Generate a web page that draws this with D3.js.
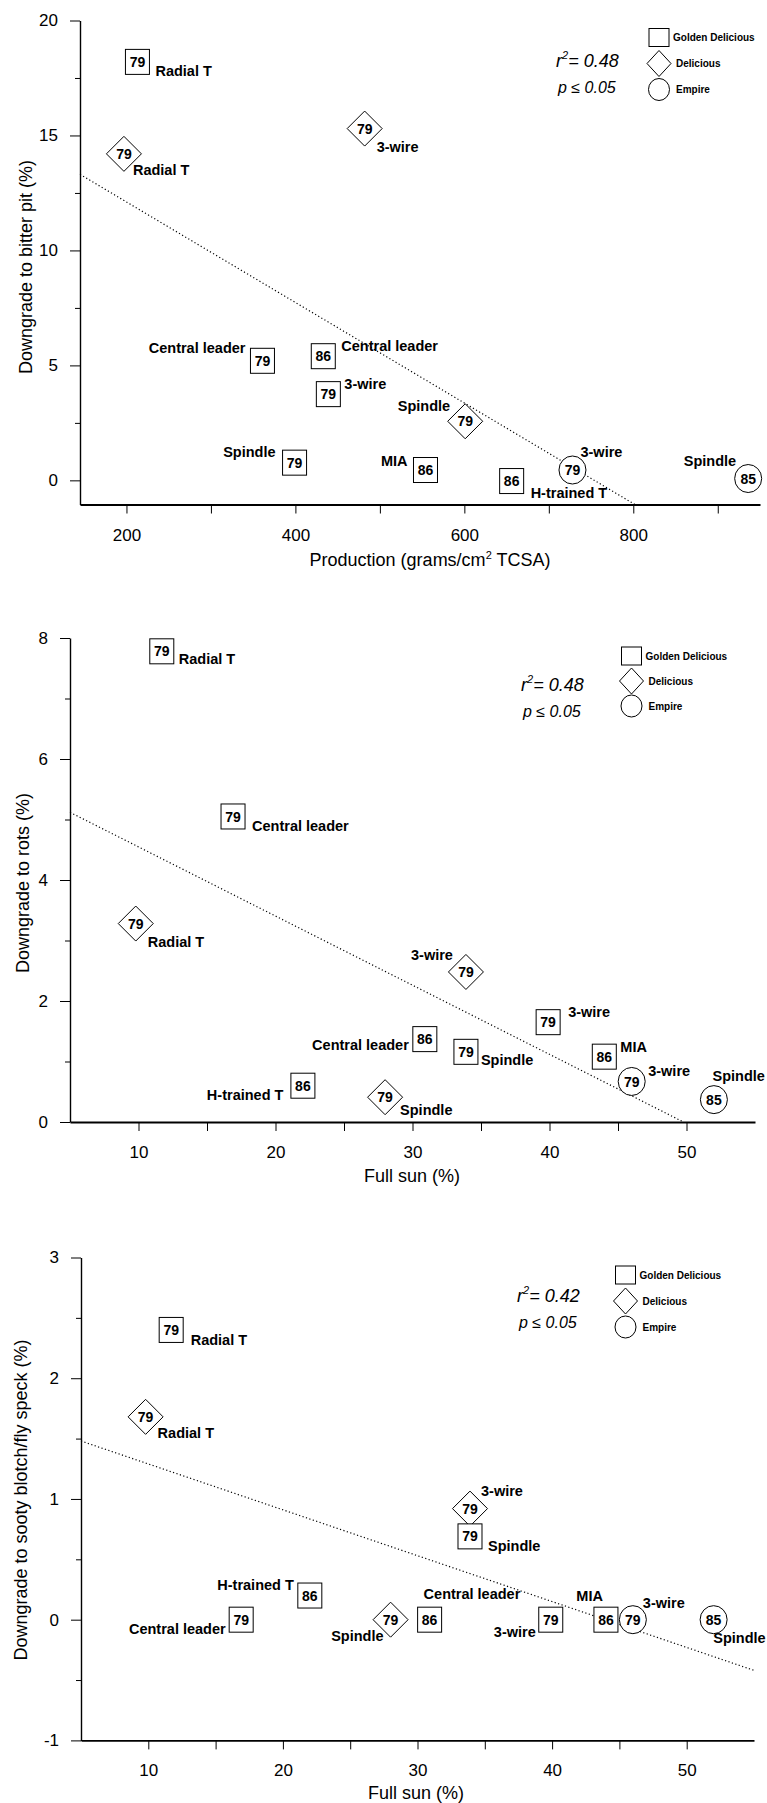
<!DOCTYPE html>
<html>
<head>
<meta charset="utf-8">
<script src="https://cdn.jsdelivr.net/npm/d3@7"></script>
<style>
  body { margin: 0; background: #fff; }
  svg { display: block; font-family: "Liberation Sans", Arial, Helvetica, sans-serif; }
</style>
</head>
<body>
<svg width="767" height="1803"></svg>
<script>
// the twelve plantings, same order in all three panels
const cultivar = ["GD", "D", "D", "GD", "GD", "GD", "D", "GD", "GD", "GD", "E", "E"];
const rootstock = ["79", "79", "79", "79", "86", "79", "79", "79", "86", "86", "79", "85"];
const trainingSystem = ["Radial T", "Radial T", "3-wire", "Central leader", "Central leader", "3-wire",
    "Spindle", "Spindle", "MIA", "H-trained T", "3-wire", "Spindle"];

const production = [213, 197, 482, 361, 433, 439, 601, 399, 554, 656, 728, 936];
const fullSun = [11.7, 9.8, 33.9, 16.9, 30.9, 39.9, 28.0, 33.9, 44.0, 22.0, 46.0, 52.0];

const bitterPit = [18.2, 14.2, 15.3, 5.2, 5.4, 3.75, 2.57, 0.77, 0.45, -0.03, 0.45, 0.08];
const rots = [7.78, 3.28, 2.48, 5.05, 1.37, 1.65, 0.41, 1.16, 1.08, 0.60, 0.67, 0.37];
const sootyBlotch = [2.40, 1.68, 0.92, 0.0, 0.0, 0.0, 0.0, 0.69, 0.0, 0.2, 0.0, 0.0];

// regression lines: [intercept, slope]
const fitBitter = [16.48, -0.02186];
const fitRots = [5.69, -0.1143];
const fitSooty = [1.67, -0.038];
const r2Values = ["0.48", "0.48", "0.42"];

const legendNames = ["Golden Delicious", "Delicious", "Empire"];
const legendKeys = ["GD", "D", "E"];

const prodTicks = [200, 400, 600, 800];
const prodMinor = [200, 300, 400, 500, 600, 700, 800, 900];
const sunTicks = [10, 20, 30, 40, 50];
const sunMinor = [10, 15, 20, 25, 30, 35, 40, 45, 50];
const bitterTicks = [0, 5, 10, 15, 20];
const bitterMinor = [2.5, 7.5, 12.5, 17.5];
const rotsTicks = [0, 2, 4, 6, 8];
const rotsMinor = [1, 3, 5, 7];
const sootyTicks = [-1, 0, 1, 2, 3];
const sootyMinor = [-0.5, 0.5, 1.5, 2.5];

// label placement beside each marker: [dx, dy, anchor]
const place1 = [[18, 14, "start"], [9, 21, "start"], [12, 23, "start"], [-17, -8, "end"],
    [18, -5, "start"], [16, -5.5, "start"], [-15, -10, "end"], [-19, -5.5, "end"],
    [-18, -4.5, "end"], [19, 16.5, "start"], [8, -13, "start"], [-12, -13, "end"]];
const place2 = [[17, 13, "start"], [12, 23, "start"], [-13, -12, "end"], [19, 15, "start"],
    [-16, 10.5, "end"], [20, -5, "start"], [15, 18, "start"], [15, 13, "start"],
    [16, -5, "start"], [-19.5, 14, "end"], [16.5, -5, "start"], [51, -18.5, "end"]];
const place3 = [[19.5, 14.8, "start"], [12, 21, "start"], [11, -12.7, "start"], [-15.5, 14, "end"],
    [-6, -20.7, "start"], [-15, 17.8, "end"], [-7, 21, "end"], [18, 14.8, "start"],
    [-3, -18.6, "end"], [-16, -5.5, "end"], [10, -11.8, "start"], [52, 23, "end"]];

const svg = d3.select("svg");

const panels = [
    {
        xs: production, ys: bitterPit, place: place1, fit: fitBitter, r2: r2Values[0],
        xDomain: [145, 950], xRange: [80, 760], yDomain: [-1.05, 20], yRange: [504.5, 20.5],
        xMajor: prodTicks, xAll: prodMinor, yMajor: bitterTicks, yMinor: bitterMinor,
        yTitle: "Downgrade to bitter pit (%)", yTitlePos: [27, 267],
        xTitle: ["Production (grams/cm", "2", " TCSA)"], xTitlePos: [430, 566],
        legend: [659, 37.5, 26], stats: [556, 67]
    },
    {
        xs: fullSun, ys: rots, place: place2, fit: fitRots, r2: r2Values[1],
        xDomain: [5, 55], xRange: [70, 755], yDomain: [0, 8], yRange: [1122, 638],
        xMajor: sunTicks, xAll: sunMinor, yMajor: rotsTicks, yMinor: rotsMinor,
        yTitle: "Downgrade to rots (%)", yTitlePos: [24, 883],
        xTitle: ["Full sun (%)"], xTitlePos: [412, 1182],
        legend: [631.5, 656, 25], stats: [521, 691]
    },
    {
        xs: fullSun, ys: sootyBlotch, place: place3, fit: fitSooty, r2: r2Values[2],
        xDomain: [5, 55], xRange: [81, 754], yDomain: [-1, 3], yRange: [1740.4, 1257.5],
        xMajor: sunTicks, xAll: sunMinor, yMajor: sootyTicks, yMinor: sootyMinor,
        yTitle: "Downgrade to sooty blotch/fly speck (%)", yTitlePos: [22, 1500],
        xTitle: ["Full sun (%)"], xTitlePos: [416, 1799],
        legend: [625.5, 1275, 26], stats: [517, 1301.5]
    }
];

// draw a marker shape centred on (cx, cy)
function marker(g, kind, cx, cy) {
    if (kind === "GD") {
        g.append("rect")
            .attr("x", cx - 12).attr("y", cy - 12.5)
            .attr("width", 24).attr("height", 25);
    } else if (kind === "D") {
        const h = 17.5;
        g.append("path")
            .attr("d", `M${cx},${cy - h}L${cx + h},${cy}L${cx},${cy + h}L${cx - h},${cy}Z`);
    } else {
        g.append("ellipse")
            .attr("cx", cx).attr("cy", cy)
            .attr("rx", 13.5).attr("ry", 14);
    }
}

function drawPanel(p) {
    const x = d3.scaleLinear().domain(p.xDomain).range(p.xRange);
    const y = d3.scaleLinear().domain(p.yDomain).range(p.yRange);
    const g = svg.append("g");

    // x axis
    const xAxis = g.append("g")
        .attr("transform", `translate(0,${p.yRange[0]})`)
        .call(d3.axisBottom(x)
            .tickValues(p.xAll)
            .tickSize(9)
            .tickSizeOuter(0)
            .tickPadding(15)
            .tickFormat(d => p.xMajor.includes(d) ? String(d) : ""));
    xAxis.select(".domain").attr("stroke-width", 1.8);

    // y axis, labelled ticks then minor ticks
    const yAxis = g.append("g")
        .attr("transform", `translate(${p.xRange[0]},0)`)
        .call(d3.axisLeft(y)
            .tickValues(p.yMajor)
            .tickSize(10)
            .tickSizeOuter(0)
            .tickPadding(12)
            .tickFormat(d => String(d)));
    yAxis.select(".domain").attr("stroke-width", 1.4);
    g.append("g")
        .attr("transform", `translate(${p.xRange[0]},0)`)
        .call(d3.axisLeft(y).tickValues(p.yMinor).tickSize(5).tickFormat(""))
        .select(".domain").remove();

    g.selectAll(".tick text")
        .attr("font-size", 17)
        .attr("font-family", "Liberation Sans, Arial, sans-serif")
        .attr("fill", "#000");
    g.selectAll(".tick line").attr("stroke", "#000");

    // axis titles
    const xt = g.append("text")
        .attr("x", p.xTitlePos[0]).attr("y", p.xTitlePos[1])
        .attr("text-anchor", "middle")
        .attr("font-size", 18);
    xt.append("tspan").text(p.xTitle[0]);
    if (p.xTitle.length > 1) {
        xt.append("tspan").attr("dy", -7).attr("font-size", 11).text(p.xTitle[1]);
        xt.append("tspan").attr("dy", 7).text(p.xTitle[2]);
    }

    g.append("text")
        .attr("transform", `translate(${p.yTitlePos[0] + 5},${p.yTitlePos[1]}) rotate(-90)`)
        .attr("text-anchor", "middle")
        .attr("font-size", 18)
        .text(p.yTitle);

    // regression line, clipped to the plot frame
    const [b, m] = p.fit;
    const x0 = p.xDomain[0];
    let x1 = p.xDomain[1];
    if (b + m * x1 < p.yDomain[0]) { x1 = (p.yDomain[0] - b) / m; }
    g.append("line")
        .attr("x1", x(x0)).attr("y1", y(b + m * x0))
        .attr("x2", x(x1)).attr("y2", y(b + m * x1))
        .attr("stroke", "#000")
        .attr("stroke-width", 1.2)
        .attr("stroke-dasharray", "1.2,2.4");

    // markers with rootstock number and training system label
    const pts = g.append("g")
        .attr("fill", "#fff")
        .attr("stroke", "#000")
        .attr("stroke-width", 1);
    p.xs.forEach((v, i) => {
        marker(pts, cultivar[i], x(v), y(p.ys[i]));
    });

    g.append("g")
        .selectAll("text")
        .data(p.xs)
        .join("text")
        .attr("x", (d, i) => x(d))
        .attr("y", (d, i) => y(p.ys[i]))
        .attr("dy", "0.36em")
        .attr("text-anchor", "middle")
        .attr("font-size", 14)
        .attr("font-weight", "bold")
        .text((d, i) => rootstock[i]);

    g.append("g")
        .selectAll("text")
        .data(p.xs)
        .join("text")
        .attr("x", (d, i) => x(d) + p.place[i][0])
        .attr("y", (d, i) => y(p.ys[i]) + p.place[i][1])
        .attr("text-anchor", (d, i) => p.place[i][2])
        .attr("font-size", 14.5)
        .attr("font-weight", "bold")
        .text((d, i) => trainingSystem[i]);

    // legend
    const [lx, ly, step] = p.legend;
    const leg = g.append("g");
    const legShapes = leg.append("g")
        .attr("fill", "#fff")
        .attr("stroke", "#000")
        .attr("stroke-width", 1);
    legendKeys.forEach((k, i) => {
        const cy = ly + i * step;
        if (k === "GD") {
            legShapes.append("rect").attr("x", lx - 10).attr("y", cy - 9).attr("width", 20).attr("height", 18);
        } else if (k === "D") {
            legShapes.append("path").attr("d", `M${lx},${cy - 13}L${lx + 12},${cy}L${lx},${cy + 13}L${lx - 12},${cy}Z`);
        } else {
            legShapes.append("ellipse").attr("cx", lx).attr("cy", cy).attr("rx", 10.5).attr("ry", 11);
        }
        leg.append("text")
            .attr("x", lx + (i === 0 ? 14 : 17))
            .attr("y", cy + 3.5)
            .attr("font-size", 10)
            .attr("font-weight", "bold")
            .text(legendNames[i]);
    });

    // fit statistics
    const r2 = g.append("text")
        .attr("x", p.stats[0]).attr("y", p.stats[1])
        .attr("font-size", 18)
        .attr("font-style", "italic");
    r2.append("tspan").text("r");
    r2.append("tspan").attr("dy", -8).attr("font-size", 11).text("2");
    r2.append("tspan").attr("dy", 8).text("= " + p.r2);

    g.append("text")
        .attr("x", p.stats[0] + 2).attr("y", p.stats[1] + 26)
        .attr("font-size", 16)
        .attr("font-style", "italic")
        .text("p \u2264 0.05");
}

panels.forEach(drawPanel);
</script>
</body>
</html>
